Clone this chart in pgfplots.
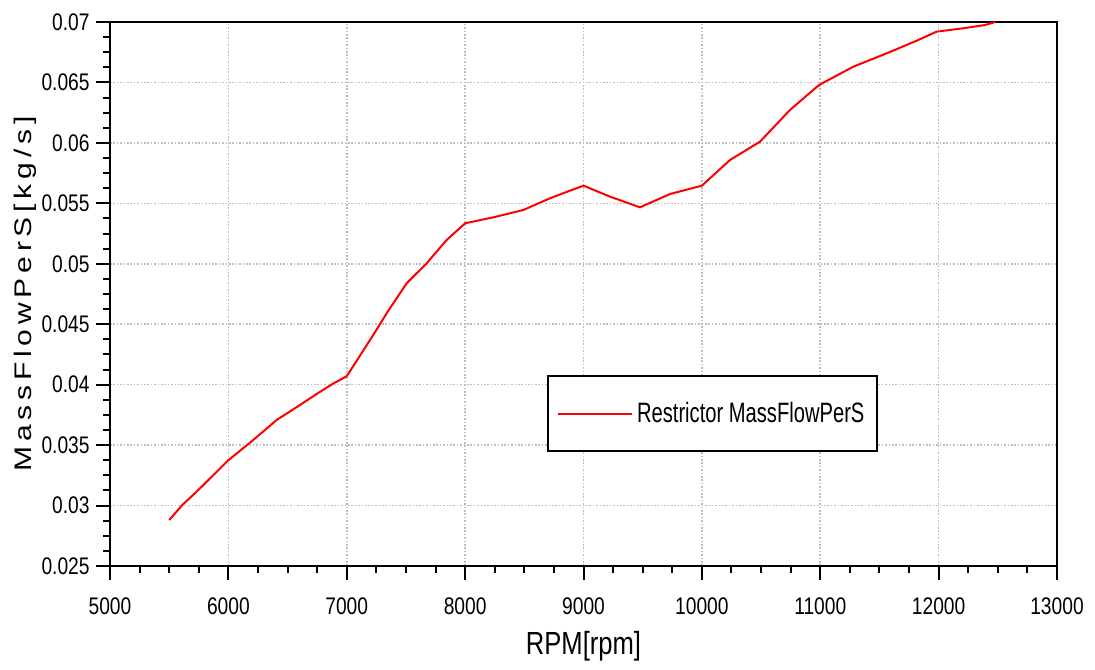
\documentclass[border=0pt]{standalone}
\usepackage{fontspec}
\usepackage{graphicx}
\usepackage{pgfplots}
\pgfplotsset{compat=1.18}
\usetikzlibrary{calc}
\setmainfont[FakeStretch=0.8]{Liberation Sans}
\newfontfamily\ylabfont[LetterSpace=16]{Liberation Sans}
\newfontfamily\legfont[FakeStretch=0.72]{Liberation Sans}
\definecolor{gridgray}{RGB}{190,190,190}

\pgfplotstableread{
rpm mdot
5500 0.0288
5611 0.03005
5732 0.03115
6000 0.03375
6211 0.03543
6408 0.03708
6605 0.03832
6746 0.03923
6887 0.0401
7000 0.0407
7224 0.04411
7337 0.0459
7506 0.04839
7675 0.05004
7844 0.05197
8000 0.05335
8238 0.05384
8492 0.05445
8717 0.05542
8886 0.05605
9000 0.05646
9224 0.05555
9477 0.05467
9731 0.05577
10000 0.05646
10238 0.05859
10491 0.0601
10744 0.06272
10990 0.06479
11279 0.0663
11561 0.06741
11814 0.06845
11983 0.0692
12208 0.06948
12392 0.06975
12480 0.0700
}\restrictor

\begin{document}
\begin{tikzpicture}
\begin{axis}[
    name=ax,
    scale only axis,
    width=473.5pt,
    height=272pt,
    xmin=5000, xmax=13000,
    ymin=0.025, ymax=0.07,
    xtick={5000,6000,...,13000},
    ytick={0.025,0.03,...,0.0701},
    scaled ticks=false,
    minor x tick num=3,
    minor y tick num=3,
    tick align=outside,
    xtick pos=bottom,
    ytick pos=left,
    major tick length=7pt,
    minor tick length=3.5pt,
    every tick/.style={black, line width=1pt},
    axis line style={black, line width=1.3pt},
    grid=major,
    major grid style={gridgray, line width=0.8pt, dash pattern=on 0.8pt off 0.9pt},
    /pgf/number format/assume math mode=true,
    /pgf/number format/set thousands separator={},
    yticklabel style={/pgf/number format/fixed, /pgf/number format/precision=3,
        inner sep=0pt, xshift=-3pt},
    xticklabel style={inner sep=0pt, yshift=-8.5pt},
    tick label style={font=\fontsize{12}{14}\selectfont},
    clip=false,
    xlabel={RPM[rpm]},
    xlabel style={font=\fontsize{16}{18}\selectfont, at={(axis description cs:0.5,-0.1636)}, anchor=base},
    ylabel={\scalebox{1}[0.8]{\ylabfont\fontsize{15}{17}\selectfont MassFlowPerS[kg/s]}},
    ylabel style={at={(axis description cs:-0.0898,0.5)}, anchor=center, rotate=0},
    legend style={at={(0.4615,0.351)}, anchor=north west, draw=black, line width=1pt,
        inner xsep=4.5pt, inner ysep=11pt, font=\legfont\fontsize{14}{16}\selectfont},
    legend cell align=left,
    legend image code/.code={\draw[#1] (0pt,0pt) -- (37pt,0pt);},
]
\addplot[red, line width=1pt] table[x=rpm, y=mdot] {\restrictor};
\addlegendentry{Restrictor MassFlowPerS}
\end{axis}
\pgfresetboundingbox
\path ($(ax.south west)+(-55pt,-52pt)$) rectangle ($(ax.north east)+(19pt,11pt)$);
\end{tikzpicture}
\end{document}
